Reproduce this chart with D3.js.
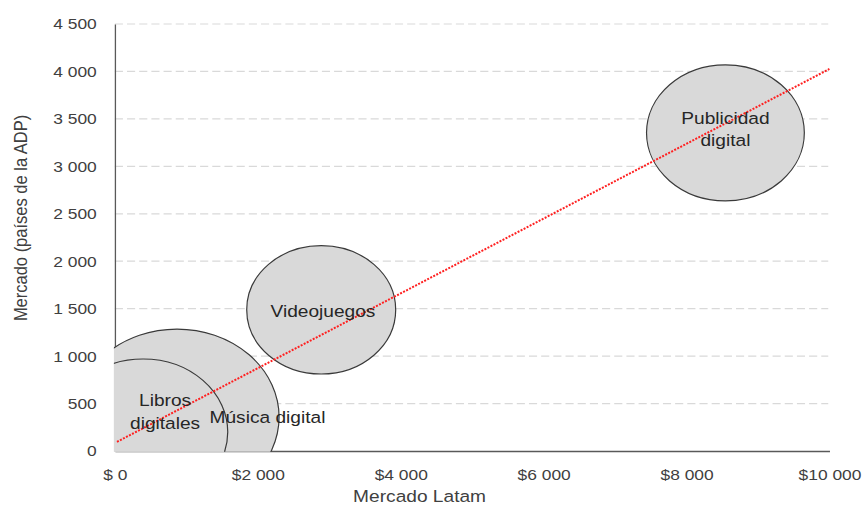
<!DOCTYPE html>
<html>
<head>
<meta charset="utf-8">
<script src="https://cdn.jsdelivr.net/npm/d3@7"></script>
<style>
  body { margin: 0; background: #fff; }
  svg { display: block; font-family: "Liberation Sans", Arial, sans-serif; }
</style>
</head>
<body>
<div id="chart"></div>
<script>
// mercados digitales: Latam (x) contra países de la ADP (y), burbuja = tamaño
const names = ['Publicidad digital', 'Videojuegos', 'Música digital', 'Libros digitales'];
const labelLines = [['Publicidad', 'digital'], ['Videojuegos'], ['Música digital'], ['Libros', 'digitales']];
const latam = [8545, 2888, 870, 395];
const adp = [3353, 1488, 358, 200];
const sizes = [4.6, 4.1, 7.7, 5.3];

const xTicks = [0, 2000, 4000, 6000, 8000, 10000];
const yTicks = [0, 500, 1000, 1500, 2000, 2500, 3000, 3500, 4000, 4500];

const trendX = [30, 10000];
const trendY = [96, 4026];

// the picture is stretched sideways, so draw in narrower units and let the viewBox widen it
const SX = 1.16;
const width = 864, height = 506;
const W = width / SX;

const svg = d3.select('#chart').append('svg')
    .attr('width', width)
    .attr('height', height)
    .attr('viewBox', `0 0 ${W} ${height}`)
    .attr('preserveAspectRatio', 'none');

const x = d3.scaleLinear().domain([0, 10000]).range([99, 715]);
const y = d3.scaleLinear().domain([0, 4500]).range([451, 24]);
const r = d3.scaleSqrt().domain([0, d3.max(sizes)]).range([0, 88]);

// label placement (offset from bubble centre, chart units)
const labelOffset = [[0, -9], [1.5, 7], [78, 6], [19, -26]];
const lineHeight = 22.5;

const data = names.map((n, i) => ({
    name: n, lines: labelLines[i], x: latam[i], y: adp[i], size: sizes[i], off: labelOffset[i]
}));

// gridlines
svg.append('g')
    .selectAll('line')
    .data(yTicks.filter(d => d > 0))
    .join('line')
        .attr('x1', x.range()[0])
        .attr('x2', x.range()[1] - 1)
        .attr('y1', d => y(d))
        .attr('y2', d => y(d))
        .attr('stroke', '#d9d9d9')
        .attr('stroke-width', 1.2)
        .attr('stroke-dasharray', '7 3.5');

// axes
const fmtX = d => d === 0 ? '$ 0' : '$' + d3.format(',')(d).replace(/,/g, ' ');
const fmtY = d => d3.format(',')(d).replace(/,/g, ' ');

const xAxis = svg.append('g')
    .attr('transform', `translate(0,${y(0)})`)
    .call(d3.axisBottom(x).tickValues(xTicks).tickFormat(fmtX)
        .tickSize(0).tickSizeOuter(0).tickPadding(18.5));

const yAxis = svg.append('g')
    .attr('transform', `translate(${x(0)},0)`)
    .call(d3.axisLeft(y).tickValues(yTicks).tickFormat(fmtY)
        .tickSize(0).tickSizeOuter(0).tickPadding(15.6));

[xAxis, yAxis].forEach(a => {
    a.attr('font-family', null).attr('font-size', 15);
    a.selectAll('text').attr('fill', '#404040');
    a.select('.domain')
        .attr('stroke', '#595959')
        .attr('stroke-width', 1.3)
        .style('vector-effect', 'non-scaling-stroke');
});
yAxis.selectAll('text').attr('dy', '0.33em');

// bubbles, clipped to the plot area
const defs = svg.append('defs');
defs.append('clipPath')
    .attr('id', 'plot-clip')
    .append('rect')
        .attr('x', x(0) - 0.8)
        .attr('y', y(4500) - 1)
        .attr('width', x.range()[1] - x(0) + 1)
        .attr('height', y(0) - y(4500) + 1.8);

const bubbleOrder = [0, 1, 2, 3];
svg.append('g')
    .attr('clip-path', 'url(#plot-clip)')
    .selectAll('circle')
    .data(bubbleOrder.map(i => data[i]))
    .join('circle')
        .attr('cx', d => x(d.x))
        .attr('cy', d => y(d.y))
        .attr('r', d => r(d.size))
        .attr('fill', '#d9d9d9')
        .attr('stroke', '#3a3a3a')
        .attr('stroke-width', 1.2)
        .style('vector-effect', 'non-scaling-stroke');

// trend line
svg.append('path')
    .datum(trendX.map((v, i) => [v, trendY[i]]))
    .attr('d', d3.line().x(d => x(d[0])).y(d => y(d[1])))
    .attr('fill', 'none')
    .attr('stroke', '#ff2020')
    .attr('stroke-width', 2)
    .attr('stroke-dasharray', '2 1.4')
    .style('vector-effect', 'non-scaling-stroke');

// bubble labels
const labels = svg.append('g')
    .attr('font-size', 16.5)
    .attr('fill', '#262626')
    .attr('text-anchor', 'middle')
    .selectAll('text')
    .data(data)
    .join('text')
        .attr('x', d => x(d.x) + d.off[0])
        .attr('y', d => y(d.y) + d.off[1]);

labels.selectAll('tspan')
    .data(d => d.lines.map((t, k) => ({ t, k, d })))
    .join('tspan')
        .attr('x', o => x(o.d.x) + o.d.off[0])
        .attr('y', o => y(o.d.y) + o.d.off[1] + o.k * lineHeight)
        .text(o => o.t);

// axis titles
svg.append('text')
    .attr('x', 419.6 / SX)
    .attr('y', 502)
    .attr('text-anchor', 'middle')
    .attr('font-size', 16.5)
    .attr('fill', '#404040')
    .text('Mercado Latam');

svg.append('text')
    .attr('transform', `translate(${26.5 / SX},218) rotate(-90)`)
    .attr('text-anchor', 'middle')
    .attr('font-size', 16.5)
    .attr('fill', '#404040')
    .text('Mercado (países de la ADP)');
</script>
</body>
</html>
